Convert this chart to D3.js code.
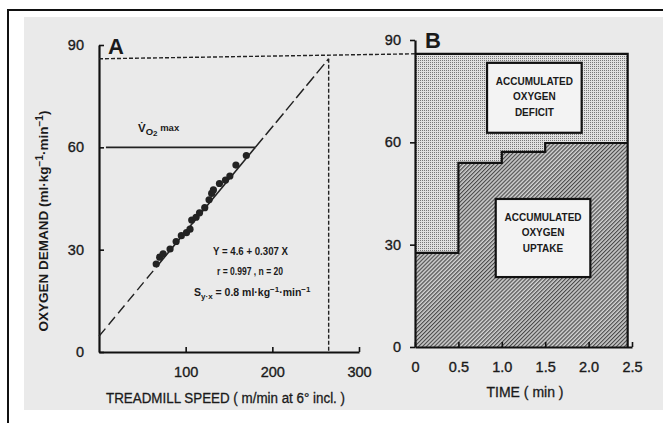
<!DOCTYPE html>
<html>
<head>
<meta charset="utf-8">
<script src="https://cdn.jsdelivr.net/npm/d3@7"></script>
<style>
body { margin: 0; background: #fff; }
text { font-family: "Liberation Sans", Arial, sans-serif; fill: #1a1a1a; }
</style>
</head>
<body>
<script>
// Panel A - oxygen demand vs treadmill speed (20 subjects)
var speed  = [66, 70, 74, 82, 89, 95, 101, 105, 107, 112, 116, 122, 127, 130, 132, 139, 146, 151, 158, 170];
var demand = [25.8, 27.8, 28.8, 30.2, 32.4, 34.1, 35.0, 36.0, 38.7, 39.5, 40.8, 42.3, 44.6, 46.5, 47.5, 49.4, 50.4, 51.6, 54.8, 57.6];
var fitA = 4.6, fitB = 0.307;
var vo2max = 60;
var peakSpeed = 265;
var ticksAx = [100, 200, 300];
var ticksAy = [0, 30, 60, 90];

// Panel B - accumulated uptake (steps) vs time
var stepTime   = [0, 0.5, 1.0, 1.5, 2.45];
var stepUptake = [27.6, 54, 57.2, 59.8, 59.8];
var ticksBx = [0, 0.5, 1.0, 1.5, 2.0, 2.5];
var ticksBy = [0, 30, 60, 90];

var W = 663, H = 423;
var fit = function (x) { return fitA + fitB * x; };
var peakDemand = fit(peakSpeed);
var vo2Speed = (vo2max - fitA) / fitB;

var svg = d3.select("body").append("svg")
    .attr("width", W)
    .attr("height", H);

// patterns for panel B
var defs = svg.append("defs");
var dots = defs.append("pattern")
    .attr("id", "dots")
    .attr("width", 2).attr("height", 2)
    .attr("patternUnits", "userSpaceOnUse");
dots.append("rect").attr("width", 2).attr("height", 2).attr("fill", "#e0e0e0");
dots.append("rect").attr("width", 1).attr("height", 1).attr("fill", "#777");

var hatch = defs.append("pattern")
    .attr("id", "hatch")
    .attr("width", 2.8).attr("height", 2.8)
    .attr("patternUnits", "userSpaceOnUse")
    .attr("patternTransform", "rotate(45)");
hatch.append("rect").attr("width", 2.8).attr("height", 2.8).attr("fill", "#d2d2d2");
hatch.append("rect").attr("width", 1.2).attr("height", 2.8).attr("fill", "#4a4a4a");

// page / frame
svg.append("rect")
    .attr("x", 24).attr("y", 17)
    .attr("width", W - 24).attr("height", 393)
    .attr("fill", "#eaeaea");
svg.append("path")
    .attr("d", "M8," + H + "V10H" + W)
    .attr("fill", "none")
    .attr("stroke", "#111")
    .attr("stroke-width", 2);

// ---------- Panel A ----------
var xA = d3.scaleLinear().domain([0, 300]).range([99, 359]);
var yA = d3.scaleLinear().domain([0, 90]).range([352, 45]);

var gA = svg.append("g");

gA.append("g")
    .attr("transform", "translate(0," + yA(0) + ")")
    .call(d3.axisBottom(xA).tickValues(ticksAx).tickSizeInner(-5).tickSizeOuter(0).tickPadding(15))
    .call(styleAxis);

gA.append("g")
    .attr("transform", "translate(" + xA(0) + ",0)")
    .call(d3.axisLeft(yA).tickValues(ticksAy).tickSizeInner(-5).tickSizeOuter(0).tickPadding(15))
    .call(styleAxis);

// dashed guides to the peak demand
gA.append("line")
    .attr("x1", xA(peakSpeed)).attr("x2", xA(peakSpeed))
    .attr("y1", yA(peakDemand)).attr("y2", yA(0))
    .attr("stroke", "#222").attr("stroke-width", 1.4)
    .attr("stroke-dasharray", "4,2");

var line = d3.line().x(function (d) { return xA(d); }).y(function (d) { return yA(fit(d)); });

gA.append("path")
    .attr("d", line([0, speed[0]]))
    .attr("fill", "none").attr("stroke", "#222").attr("stroke-width", 1.4)
    .attr("stroke-dasharray", "10,5");
gA.append("path")
    .attr("d", line([speed[0], vo2Speed]))
    .attr("fill", "none").attr("stroke", "#222").attr("stroke-width", 1.6);
gA.append("path")
    .attr("d", line([vo2Speed, peakSpeed]))
    .attr("fill", "none").attr("stroke", "#222").attr("stroke-width", 1.5)
    .attr("stroke-dasharray", "12,4");

// VO2max line
gA.append("line")
    .attr("x1", xA(8)).attr("x2", xA(vo2Speed))
    .attr("y1", yA(vo2max)).attr("y2", yA(vo2max))
    .attr("stroke", "#222").attr("stroke-width", 1.6);

gA.selectAll("circle")
    .data(speed)
    .enter().append("circle")
    .attr("cx", function (d) { return xA(d); })
    .attr("cy", function (d, i) { return yA(demand[i]); })
    .attr("r", 3.6)
    .attr("fill", "#222");

gA.append("text")
    .attr("x", 108).attr("y", 54)
    .style("font-size", "22px").style("font-weight", "bold")
    .text("A");

var vt = gA.append("text").attr("x", 138).attr("y", 132).style("font-weight", "bold");
vt.append("tspan").style("font-size", "11.5px").text("V\u0307");
vt.append("tspan").style("font-size", "9.5px").attr("dy", 3).text("O");
vt.append("tspan").style("font-size", "8px").attr("dy", 1).text("2");
vt.append("tspan").style("font-size", "9.5px").attr("dy", -5).text(" max");

gA.append("text")
    .attr("x", 213).attr("y", 255)
    .attr("textLength", 75).attr("lengthAdjust", "spacingAndGlyphs")
    .style("font-size", "10.5px").style("font-weight", "bold")
    .text("Y = 4.6 + 0.307 X");
gA.append("text")
    .attr("x", 217).attr("y", 275)
    .attr("textLength", 66).attr("lengthAdjust", "spacingAndGlyphs")
    .style("font-size", "10.5px").style("font-weight", "bold")
    .text("r = 0.997 , n = 20");

var st = gA.append("text").attr("x", 194).attr("y", 296)
    .style("font-size", "10.5px").style("font-weight", "bold");
st.append("tspan").text("S");
st.append("tspan").attr("dy", 3).style("font-size", "8px").text("y\u00b7x");
st.append("tspan").attr("dy", -3).text(" = 0.8 ml\u00b7kg");
st.append("tspan").attr("dy", -4).style("font-size", "8px").text("\u22121");
st.append("tspan").attr("dy", 4).text("\u00b7min");
st.append("tspan").attr("dy", -4).style("font-size", "8px").text("\u22121");

var yl = gA.append("text")
    .attr("transform", "translate(48,221) rotate(-90)")
    .attr("text-anchor", "middle")
    .style("font-size", "13.5px").style("font-weight", "bold");
yl.append("tspan").text("OXYGEN DEMAND (ml\u00b7kg");
yl.append("tspan").attr("dy", -5).style("font-size", "10px").text("\u22121");
yl.append("tspan").attr("dy", 5).text("\u00b7min");
yl.append("tspan").attr("dy", -5).style("font-size", "10px").text("\u22121");
yl.append("tspan").attr("dy", 5).text(")");

gA.append("text")
    .attr("x", 106).attr("y", 403)
    .attr("textLength", 239).attr("lengthAdjust", "spacingAndGlyphs")
    .style("font-size", "14px")
    .attr("stroke", "#1a1a1a").attr("stroke-width", 0.3)
    .text("TREADMILL SPEED ( m/min at 6\u00b0 incl. )");

// ---------- Panel B ----------
var xB = d3.scaleLinear().domain([0, 2.5]).range([415, 632]);
var yB = d3.scaleLinear().domain([0, 90]).range([347, 40]);
var tEnd = stepTime[stepTime.length - 1];

var gB = svg.append("g");

// link from A peak to B
svg.append("line")
    .attr("x1", xA(0)).attr("x2", xB(0))
    .attr("y1", yA(peakDemand)).attr("y2", yB(peakDemand))
    .attr("stroke", "#222").attr("stroke-width", 1.4)
    .attr("stroke-dasharray", "4,2");

gB.append("rect")
    .attr("x", xB(0)).attr("y", yB(peakDemand))
    .attr("width", xB(tEnd) - xB(0)).attr("height", yB(0) - yB(peakDemand))
    .attr("fill", "url(#dots)");

var steps = stepTime.map(function (t, i) { return {t: t, v: stepUptake[i]}; });

gB.append("path")
    .attr("d", d3.area().curve(d3.curveStepAfter)
        .x(function (d) { return xB(d.t); })
        .y0(yB(0))
        .y1(function (d) { return yB(d.v); })(steps))
    .attr("fill", "url(#hatch)");

gB.append("path")
    .attr("d", d3.line().curve(d3.curveStepAfter)
        .x(function (d) { return xB(d.t); })
        .y(function (d) { return yB(d.v); })(steps))
    .attr("fill", "none").attr("stroke", "#111").attr("stroke-width", 2.2);

gB.append("path")
    .attr("d", d3.line()([[xB(0), yB(peakDemand)], [xB(tEnd), yB(peakDemand)], [xB(tEnd), yB(0)]]))
    .attr("fill", "none").attr("stroke", "#111").attr("stroke-width", 2.2);

gB.append("g")
    .attr("transform", "translate(0," + yB(0) + ")")
    .call(d3.axisBottom(xB).tickValues(ticksBx).tickSizeInner(-5).tickSizeOuter(0).tickPadding(15)
        .tickFormat(function (d) { return d === 0 ? "0" : d3.format(".1f")(d); }))
    .call(styleAxis);

gB.append("g")
    .attr("transform", "translate(" + xB(0) + ",0)")
    .call(d3.axisLeft(yB).tickValues(ticksBy).tickSizeInner(5).tickSizeOuter(0).tickPadding(9))
    .call(styleAxis);

gB.append("text")
    .attr("x", 425).attr("y", 48)
    .style("font-size", "22px").style("font-weight", "bold")
    .text("B");

var boxes = [
    {t0: 0.83, t1: 1.92, v0: 62.8, v1: 83.3, lines: ["ACCUMULATED", "OXYGEN", "DEFICIT"]},
    {t0: 0.93, t1: 2.02, v0: 20.5, v1: 43.4, lines: ["ACCUMULATED", "OXYGEN", "UPTAKE"]}
];
boxes.forEach(function (b) {
    var x0 = xB(b.t0), x1 = xB(b.t1), y0 = yB(b.v1), y1 = yB(b.v0);
    gB.append("rect")
        .attr("x", x0).attr("y", y0)
        .attr("width", x1 - x0).attr("height", y1 - y0)
        .attr("fill", "#f3f3f3").attr("stroke", "#111").attr("stroke-width", 2.2);
    b.lines.forEach(function (s, i) {
        gB.append("text")
            .attr("x", (x0 + x1) / 2).attr("y", y0 + 22 + i * 15.5)
            .attr("text-anchor", "middle")
            .style("font-size", "10px").style("font-weight", "bold")
            .text(s);
    });
});

gB.append("text")
    .attr("x", 525).attr("y", 397)
    .attr("text-anchor", "middle")
    .style("font-size", "14px")
    .attr("stroke", "#1a1a1a").attr("stroke-width", 0.3)
    .text("TIME ( min )");

function styleAxis(g) {
    g.select(".domain").attr("stroke", "#111").attr("stroke-width", 2.2);
    g.selectAll(".tick line").attr("stroke", "#111").attr("stroke-width", 1.6);
    g.selectAll(".tick text")
        .style("font-size", "14.5px")
        .style("font-family", "'Liberation Sans', Arial, sans-serif")
        .attr("fill", "#1a1a1a")
        .attr("stroke", "#1a1a1a")
        .attr("stroke-width", 0.35);
}
</script>
</body>
</html>
